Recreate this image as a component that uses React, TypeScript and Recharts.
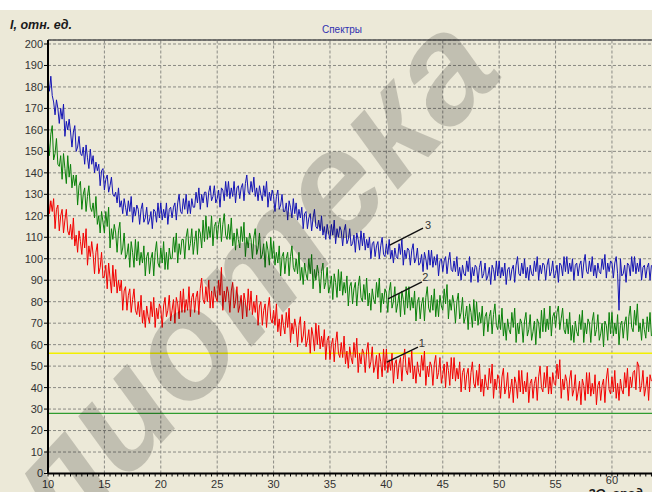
import React from 'react';
import { LineChart, Line, XAxis, YAxis, CartesianGrid, ReferenceLine, ReferenceDot } from 'recharts';

// 2θ sampling: from 10° with 0.125° step (8 readings per degree)
const START_ANGLE = 10;
const STEP = 0.125;

// Curve 3 (blue)
const curve3 = [
  183, 178, 185, 176, 173, 167, 174, 170,
  163, 170, 165, 172, 157, 164, 160, 165,
  159, 152, 159, 162, 150, 152, 157, 149,
  148, 152, 144, 153, 147, 142, 151, 144,
  148, 140, 145, 141, 144, 134, 141, 142,
  132, 137, 139, 131, 134, 138, 130, 129,
  131, 126, 133, 124, 127, 121, 128, 124,
  120, 127, 122, 129, 117, 124, 120, 125,
  123, 116, 123, 126, 117, 119, 124, 116,
  118, 122, 114, 123, 122, 117, 126, 119,
  126, 118, 123, 119, 126, 116, 123, 124,
  119, 124, 126, 118, 126, 130, 122, 121,
  128, 123, 130, 121, 127, 121, 128, 124,
  124, 131, 126, 133, 123, 130, 126, 131,
  131, 124, 131, 134, 127, 129, 134, 126,
  128, 132, 124, 133, 132, 127, 136, 129,
  136, 128, 133, 129, 136, 126, 133, 134,
  128, 133, 135, 127, 135, 139, 131, 130,
  136, 131, 138, 129, 133, 127, 134, 130,
  127, 134, 129, 136, 124, 131, 127, 132,
  129, 122, 129, 132, 123, 125, 130, 122,
  122, 126, 118, 127, 124, 119, 128, 121,
  126, 118, 123, 119, 124, 114, 121, 122,
  114, 119, 121, 113, 119, 123, 115, 114,
  118, 113, 120, 111, 115, 109, 116, 112,
  109, 116, 111, 118, 107, 114, 110, 115,
  113, 106, 113, 116, 107, 109, 114, 106,
  107, 111, 103, 112, 109, 104, 113, 106,
  112, 104, 109, 105, 110, 100, 107, 108,
  101, 106, 108, 100, 106, 110, 102, 101,
  107, 102, 109, 100, 104, 98, 105, 101,
  100, 107, 102, 109, 97, 104, 100, 105,
  104, 97, 104, 107, 98, 100, 105, 97,
  98, 102, 94, 103, 100, 95, 104, 97,
  104, 96, 101, 97, 102, 92, 99, 100,
  94, 99, 101, 93, 99, 103, 95, 94,
  99, 94, 101, 92, 96, 90, 97, 93,
  92, 99, 94, 101, 89, 96, 92, 97,
  96, 89, 96, 99, 91, 93, 98, 90,
  92, 96, 88, 97, 95, 90, 99, 92,
  99, 91, 96, 92, 98, 88, 95, 96,
  90, 95, 97, 89, 97, 101, 93, 92,
  98, 93, 100, 91, 96, 90, 97, 93,
  92, 99, 94, 101, 90, 97, 93, 98,
  97, 90, 97, 100, 92, 94, 99, 91,
  93, 97, 89, 98, 97, 92, 101, 94,
  101, 93, 98, 94, 100, 90, 97, 98,
  92, 97, 99, 91, 98, 102, 94, 93,
  99, 94, 101, 92, 97, 91, 98, 94,
  93, 100, 95, 102, 91, 98, 94, 99,
  98, 91, 98, 101, 93, 76, 100, 92,
  93, 97, 89, 98, 97, 92, 101, 94,
  101, 93, 98, 94, 100, 90, 96, 97,
  91, 96, 98, 90, 97,
];

// Curve 2 (green)
const curve2 = [
  157, 148, 158, 162, 146, 149, 156, 144,
  143, 148, 137, 149, 142, 135, 148, 138,
  144, 133, 139, 134, 139, 125, 134, 136,
  123, 130, 133, 122, 129, 134, 124, 122,
  126, 119, 129, 116, 120, 112, 122, 117,
  112, 122, 115, 124, 105, 114, 109, 116,
  112, 103, 113, 117, 102, 105, 112, 100,
  102, 107, 96, 108, 103, 96, 109, 99,
  108, 97, 103, 98, 106, 92, 101, 103,
  93, 100, 103, 92, 103, 108, 98, 96,
  105, 98, 108, 95, 103, 95, 105, 100,
  100, 110, 103, 112, 98, 107, 102, 109,
  109, 100, 110, 114, 104, 107, 114, 102,
  108, 113, 102, 114, 112, 105, 118, 108,
  120, 109, 115, 110, 120, 106, 115, 117,
  109, 116, 119, 108, 116, 121, 111, 109,
  116, 109, 119, 106, 112, 104, 114, 109,
  105, 115, 108, 117, 101, 110, 105, 112,
  109, 100, 110, 114, 102, 105, 112, 100,
  102, 107, 96, 108, 104, 97, 110, 100,
  108, 97, 103, 98, 106, 92, 101, 103,
  93, 100, 103, 92, 101, 106, 96, 94,
  100, 93, 103, 90, 96, 88, 98, 93,
  90, 100, 93, 102, 86, 95, 90, 97,
  93, 84, 94, 98, 86, 89, 96, 84,
  87, 92, 81, 93, 89, 82, 95, 85,
  94, 83, 89, 84, 92, 78, 87, 89,
  79, 86, 89, 78, 87, 92, 82, 80,
  88, 81, 91, 78, 84, 76, 86, 81,
  79, 89, 82, 91, 75, 84, 79, 86,
  84, 75, 85, 89, 77, 80, 87, 75,
  79, 84, 73, 85, 81, 74, 87, 77,
  87, 76, 82, 77, 85, 71, 80, 82,
  72, 79, 82, 71, 82, 87, 77, 75,
  83, 76, 86, 73, 81, 73, 83, 78,
  76, 86, 79, 88, 72, 81, 76, 83,
  79, 70, 80, 84, 72, 75, 82, 70,
  73, 78, 67, 79, 75, 68, 81, 71,
  80, 69, 75, 70, 78, 64, 73, 75,
  66, 73, 76, 65, 74, 79, 69, 67,
  74, 67, 77, 64, 70, 62, 72, 67,
  65, 75, 68, 77, 61, 70, 65, 72,
  70, 61, 71, 75, 64, 67, 74, 62,
  66, 71, 60, 72, 70, 63, 76, 66,
  77, 66, 72, 67, 78, 64, 73, 75,
  68, 75, 78, 67, 72, 77, 67, 65,
  72, 65, 75, 62, 69, 61, 71, 66,
  64, 74, 67, 76, 61, 70, 65, 72,
  70, 61, 71, 75, 64, 67, 74, 62,
  65, 70, 59, 71, 69, 62, 75, 65,
  75, 64, 70, 65, 74, 60, 69, 71,
  63, 70, 73, 62, 73, 78, 68, 66,
  76, 69, 79, 66, 70, 62, 72, 67,
  63, 73, 66, 75, 64,
];

// Curve 1 (red)
const curve1 = [
  132, 121, 127, 122, 128, 114, 123, 125,
  113, 120, 123, 112, 118, 123, 113, 111,
  116, 109, 119, 106, 111, 103, 113, 108,
  102, 112, 105, 114, 97, 106, 101, 108,
  102, 93, 103, 107, 93, 96, 103, 91,
  92, 97, 86, 98, 91, 84, 97, 87,
  95, 84, 90, 85, 90, 76, 85, 87,
  76, 83, 86, 75, 81, 86, 76, 74,
  80, 73, 83, 70, 76, 68, 78, 73,
  70, 80, 73, 82, 68, 77, 72, 79,
  77, 68, 78, 82, 73, 76, 83, 71,
  76, 81, 70, 82, 79, 72, 85, 75,
  86, 75, 81, 76, 87, 73, 82, 84,
  75, 82, 85, 74, 86, 91, 81, 79,
  87, 80, 90, 77, 85, 77, 87, 82,
  80, 90, 83, 96, 76, 85, 80, 87,
  84, 75, 85, 89, 77, 80, 87, 75,
  78, 83, 72, 84, 80, 73, 86, 76,
  85, 74, 80, 75, 83, 69, 78, 80,
  69, 76, 79, 68, 77, 82, 72, 70,
  76, 69, 79, 66, 72, 64, 74, 69,
  65, 75, 68, 77, 61, 70, 65, 72,
  68, 59, 69, 73, 61, 64, 71, 59,
  62, 67, 56, 68, 64, 57, 70, 60,
  69, 58, 64, 59, 67, 53, 62, 64,
  53, 60, 63, 52, 61, 66, 56, 54,
  61, 54, 64, 51, 57, 49, 59, 54,
  51, 61, 54, 63, 47, 56, 51, 58,
  56, 47, 57, 61, 49, 52, 59, 47,
  50, 55, 44, 56, 52, 45, 58, 48,
  58, 47, 53, 48, 56, 42, 51, 53,
  44, 51, 54, 43, 53, 58, 48, 46,
  54, 47, 57, 44, 50, 42, 52, 47,
  45, 55, 48, 57, 41, 50, 45, 52,
  50, 41, 51, 55, 44, 47, 54, 42,
  46, 51, 40, 52, 48, 41, 54, 44,
  54, 43, 49, 44, 52, 38, 47, 49,
  39, 46, 49, 38, 47, 52, 42, 40,
  48, 41, 51, 38, 44, 36, 46, 41,
  39, 49, 42, 51, 35, 44, 39, 46,
  44, 35, 45, 49, 37, 40, 47, 35,
  39, 44, 33, 45, 42, 35, 48, 38,
  48, 37, 43, 38, 47, 33, 42, 44,
  35, 42, 45, 34, 45, 50, 40, 38,
  47, 40, 50, 37, 45, 37, 47, 42,
  41, 51, 44, 53, 35, 44, 39, 46,
  43, 34, 44, 48, 36, 39, 46, 34,
  38, 43, 32, 44, 41, 34, 47, 37,
  47, 36, 42, 37, 46, 32, 41, 43,
  34, 41, 44, 33, 44, 49, 39, 37,
  45, 38, 48, 35, 42, 34, 44, 39,
  37, 47, 40, 49, 36, 45, 40, 47,
  48, 39, 52, 50, 38, 41, 48, 36,
  40, 45, 34, 46, 43,
];

const xTicks = [10, 15, 20, 25, 30, 35, 40, 45, 50, 55, 60];
const xGridLines = [15, 20, 25, 30, 35, 40, 45, 50, 55, 60];
const xMinorTicks = [
  10, 10.5, 11, 11.5, 12, 12.5, 13, 13.5, 14, 14.5, 15, 15.5, 16, 16.5, 17, 17.5, 18, 18.5, 19, 19.5,
  20, 20.5, 21, 21.5, 22, 22.5, 23, 23.5, 24, 24.5, 25, 25.5, 26, 26.5, 27, 27.5, 28, 28.5, 29, 29.5,
  30, 30.5, 31, 31.5, 32, 32.5, 33, 33.5, 34, 34.5, 35, 35.5, 36, 36.5, 37, 37.5, 38, 38.5, 39, 39.5,
  40, 40.5, 41, 41.5, 42, 42.5, 43, 43.5, 44, 44.5, 45, 45.5, 46, 46.5, 47, 47.5, 48, 48.5, 49, 49.5,
  50, 50.5, 51, 51.5, 52, 52.5, 53, 53.5, 54, 54.5, 55, 55.5, 56, 56.5, 57, 57.5, 58, 58.5, 59, 59.5,
  60, 60.5, 61, 61.5, 62, 62.5, 63, 63.5,
];
const yTicks = [0, 10, 20, 30, 40, 50, 60, 70, 80, 90, 100, 110, 120, 130, 140, 150, 160, 170, 180, 190, 200];
const yellowLevel = 56;
const greenLevel = 28;
const X_MAX = 63.55;
const Y_MAX = 201.86;

// pointer lines for curve labels
const pointers = [
  { label: '3', from: { x: 40.3, y: 106.4 }, to: { x: 43.25, y: 114.3 }, at: { x: 43.7, y: 115.7 } },
  { label: '2', from: { x: 40.15, y: 81.3 }, to: { x: 43.15, y: 89.2 }, at: { x: 43.45, y: 91.5 } },
  { label: '1', from: { x: 40.05, y: 51.9 }, to: { x: 42.8, y: 58.9 }, at: { x: 43.15, y: 60.8 } },
];

const data = curve1.map((v, i) => ({
  x: START_ANGLE + i * STEP,
  c1: v,
  c2: curve2[i],
  c3: curve3[i],
}));

const FONT = '"Liberation Sans", Arial, sans-serif';

const XTick = (props: any) => {
  const { x, y, payload } = props;
  const v = payload.value;
  if (!xTicks.includes(v)) return null;
  const lift = v === 60 ? -4 : 0;
  return (
    <text x={x} y={y + lift} dy="0.71em" textAnchor="middle" fontSize={11} fill="#333" fontFamily={FONT}>
      {v}
    </text>
  );
};

export default function App() {
  return (
    <div style={{ position: 'absolute', left: 0, top: 0, width: 652, height: 492, background: '#ffffff', overflow: 'hidden' }}>
      <div style={{ position: 'absolute', left: 0, top: 10, width: 652, height: 482, background: '#ECE9D8' }} />
      <div style={{ position: 'absolute', left: 0, top: 0 }}>
        <LineChart width={652} height={492} data={data} margin={{ top: 40, right: 0, left: 0, bottom: 0 }}>
          <CartesianGrid vertical={false} stroke="#8a8a84" strokeDasharray="3 2" strokeWidth={1} />
          <XAxis
            dataKey="x"
            type="number"
            domain={[10, X_MAX]}
            allowDataOverflow
            ticks={xMinorTicks}
            interval={0}
            height={18.5}
            tickSize={3}
            tickMargin={4}
            axisLine={{ stroke: '#000', strokeWidth: 2 }}
            tickLine={{ stroke: '#000' }}
            tick={<XTick />}
          />
          <YAxis
            type="number"
            domain={[0, Y_MAX]}
            allowDataOverflow
            ticks={yTicks}
            interval={0}
            width={48}
            tickSize={4}
            tickMargin={1}
            axisLine={{ stroke: '#000', strokeWidth: 2 }}
            tickLine={{ stroke: '#000' }}
            tick={{ fontSize: 11, fill: '#333', fontFamily: FONT }}
          />
          {xGridLines.map((t) => (
            <ReferenceLine key={'g' + t} x={t} stroke="#8a8a84" strokeDasharray="3 2" strokeWidth={1} />
          ))}
          <ReferenceLine y={Y_MAX} stroke="#555" strokeWidth={1.5} />
          <ReferenceLine y={yellowLevel} stroke="#f2f000" strokeWidth={1.4} />
          <ReferenceLine y={greenLevel} stroke="#2f9c2f" strokeWidth={1.4} />
          <Line type="linear" dataKey="c3" stroke="#1414b4" strokeWidth={1} dot={false} isAnimationActive={false} />
          <Line type="linear" dataKey="c2" stroke="#0a800a" strokeWidth={1} dot={false} isAnimationActive={false} />
          <Line type="linear" dataKey="c1" stroke="#f20000" strokeWidth={1} dot={false} isAnimationActive={false} />
          {pointers.map((p) => (
            <ReferenceLine key={'l' + p.label} segment={[p.from, p.to]} stroke="#111" strokeWidth={1.4} />
          ))}
          {pointers.map((p) => (
            <ReferenceDot
              key={'d' + p.label}
              x={p.at.x}
              y={p.at.y}
              r={0}
              shape={(props: any) => (
                <text x={props.cx} y={props.cy} dy="0.35em" textAnchor="middle" fontSize={11} fill="#333" fontFamily={FONT}>
                  {p.label}
                </text>
              )}
            />
          ))}
        </LineChart>
      </div>
      <svg width={652} height={492} style={{ position: 'absolute', left: 0, top: 0, pointerEvents: 'none' }}>
        <text x={342} y={33} textAnchor="middle" fontSize={10} fill="#3030b0" fontFamily={FONT}>Спектры</text>
        <text x={10} y={29} fontSize={12.5} fontWeight="bold" fontStyle="italic" fill="#1a1a1a" fontFamily={FONT}>I, отн. ед.</text>
        <text x={588} y={498} fontSize={13} fontWeight="bold" fontStyle="italic" fill="#1a1a1a" fontFamily={FONT}>2Θ, град</text>
        <text
          x={185}
          y={418}
          textAnchor="middle"
          fontSize={150}
          fontWeight="bold"
          fontStyle="italic"
          fill="#000"
          fillOpacity={0.18}
          fontFamily={FONT}
          transform="rotate(-47 185 418)"
        >
          Библиотека
        </text>
      </svg>
    </div>
  );
}
